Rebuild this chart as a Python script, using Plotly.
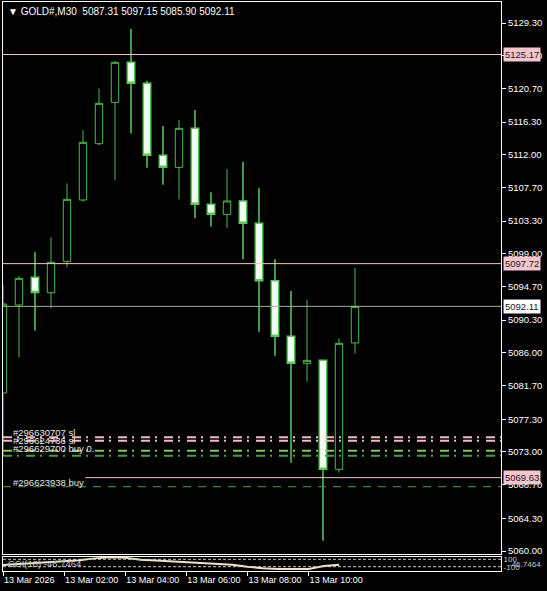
import plotly.graph_objects as go

# ---------------- data ----------------
bar_index = list(range(23))  # M30 bars, 13 Mar 2026 00:00 .. 11:00
opens = [5080.74, 5092.29, 5095.92, 5093.90, 5098.02, 5106.07, 5113.46, 5118.89, 5124.14, 5121.39,
         5111.94, 5110.36, 5115.48, 5105.50, 5104.19, 5105.94, 5103.01, 5095.48, 5088.18, 5084.64,
         5085.03, 5070.72, 5087.31]
highs = [5094.91, 5096.09, 5099.20, 5101.17, 5108.26, 5115.26, 5120.73, 5124.30, 5128.51, 5121.73,
         5115.78, 5116.57, 5117.88, 5107.08, 5110.14, 5111.10, 5107.60, 5098.29, 5094.12, 5092.94,
         5085.10, 5087.92, 5097.15]
lows = [5072.60, 5085.42, 5088.91, 5091.85, 5097.24, 5105.85, 5113.29, 5108.69, 5114.82, 5110.31,
        5108.08, 5106.16, 5103.67, 5102.56, 5102.43, 5098.29, 5088.78, 5085.63, 5071.59, 5082.22,
        5061.35, 5070.28, 5085.90]
closes = [5092.42, 5095.79, 5093.93, 5097.89, 5106.16, 5113.64, 5118.76, 5124.14, 5121.39, 5111.94,
          5110.36, 5115.48, 5105.50, 5104.19, 5105.94, 5103.01, 5095.48, 5088.18, 5084.64, 5085.03,
          5070.72, 5087.26, 5092.11]

cci_values = [-54, -30, -5, 20, 45, 75, 125, 152, 140, 85, 65, 45, 20, 5, -8, -45, -100, -143,
              -162, -165, -160, -80, -47]
cci_levels = [100, -100]

price_ticks = [5129.30, 5125.00, 5120.70, 5116.30, 5112.00, 5107.70, 5103.30, 5099.00, 5094.70,
               5090.30, 5086.00, 5081.70, 5077.30, 5073.00, 5068.70, 5064.30, 5060.00]
time_tick_bars = [0, 4, 8, 12, 16, 20]
time_tick_labels = ["13 Mar 2026", "13 Mar 02:00", "13 Mar 04:00", "13 Mar 06:00",
                    "13 Mar 08:00", "13 Mar 10:00"]

pink_levels = [5125.17, 5097.72]
bid_level = 5092.11
order_open_level = 5069.63
sl_levels = [5074.92, 5074.48]
tp_levels = [5073.16, 5072.51]
stop_dash_level = 5068.44

order_texts = ["#296630707 sl", "#296624736 sl", "#296629700 buy 0.", "#296623938 buy"]
order_text_levels = [5075.62, 5074.55, 5073.40, 5068.95]

title_text = "\u25BC GOLD#,M30  5087.31 5097.15 5085.90 5092.11"
cci_text = "CCI(18) -46.7464"
cci_value = -46.7464

# ---------------- figure ----------------
fig = go.Figure()

fig.add_trace(go.Candlestick(
    x=bar_index, open=opens, high=highs, low=lows, close=closes,
    increasing=dict(line=dict(color="#4cb84c", width=1), fillcolor="#000000"),
    decreasing=dict(line=dict(color="#5cc85c", width=1.5), fillcolor="#f2fff2"),
    whiskerwidth=0, hoverinfo="skip", xaxis="x", yaxis="y",
))

fig.add_trace(go.Scatter(
    x=bar_index, y=cci_values, mode="lines",
    line=dict(color="#efe4c8", width=2), hoverinfo="skip", xaxis="x2", yaxis="y2",
))

shapes = []
for lv in pink_levels:
    shapes.append(dict(type="line", xref="x domain", yref="y", x0=0, x1=1, y0=lv, y1=lv,
                       line=dict(color="#f2c4ca", width=1)))
shapes.append(dict(type="line", xref="x domain", yref="y", x0=0, x1=1, y0=bid_level, y1=bid_level,
                   line=dict(color="#a8a8a8", width=1)))
shapes.append(dict(type="line", xref="x domain", yref="y", x0=0.165, x1=1, y0=order_open_level,
                   y1=order_open_level, line=dict(color="#f2c4ca", width=1)))
for lv in sl_levels:
    shapes.append(dict(type="line", xref="x domain", yref="y", x0=0, x1=1, y0=lv, y1=lv,
                       line=dict(color="#f0b8c2", width=2, dash="9px,5px,2px,7px")))
tp_colors = ["#8cc06a", "#4a9a40"]
for lv, c in zip(tp_levels, tp_colors):
    shapes.append(dict(type="line", xref="x domain", yref="y", x0=0, x1=1, y0=lv, y1=lv,
                       line=dict(color=c, width=2, dash="9px,5px,2px,7px")))
shapes.append(dict(type="line", xref="x domain", yref="y", x0=0, x1=1, y0=stop_dash_level,
                   y1=stop_dash_level, line=dict(color="#4a9a40", width=1, dash="8px,7px")))
for lv in cci_levels:
    shapes.append(dict(type="line", xref="x2 domain", yref="y2", x0=0, x1=1, y0=lv, y1=lv,
                       line=dict(color="#c8c8c8", width=1, dash="3px,2px")))

annotations = []
annotations.append(dict(text=title_text, xref="paper", yref="paper", x=0, y=1, xanchor="left",
                        yanchor="top", xshift=3, yshift=-2, showarrow=False,
                        font=dict(color="#ffffff", size=10)))
label_specs = [(pink_levels[0], "#f6c4cc"), (pink_levels[1], "#f6c4cc"),
               (bid_level, "#ffffff"), (order_open_level, "#f6c4cc")]
for lv, bg in label_specs:
    annotations.append(dict(text=f"{lv:.2f}", xref="paper", yref="y", x=1, y=lv, xanchor="left",
                            yanchor="middle", xshift=2, showarrow=False, bgcolor=bg, borderpad=1,
                            font=dict(color="#202020", size=9.5)))
for t, lv in zip(order_texts, order_text_levels):
    annotations.append(dict(text=t, xref="paper", yref="y", x=0, y=lv, xanchor="left",
                            yanchor="middle", xshift=8, showarrow=False,
                            font=dict(color="#e8e8e8", size=9.5)))
annotations.append(dict(text=cci_text, xref="paper", yref="y2", x=0, y=0, xanchor="left",
                        yanchor="middle", xshift=3, showarrow=False,
                        font=dict(color="#c8c8c8", size=9.5)))
annotations.append(dict(text=f"{cci_value:.4f}", xref="paper", yref="y2", x=1, y=cci_value,
                        xanchor="left", yanchor="middle", xshift=6, showarrow=False,
                        font=dict(color="#c8c8c8", size=8)))

fig.update_layout(
    width=547, height=591,
    margin=dict(l=3, r=46, t=2, b=20, autoexpand=False),
    paper_bgcolor="#000000", plot_bgcolor="#000000",
    showlegend=False,
    font=dict(family="Liberation Sans", size=9.5, color="#e8e8e8"),
    boxgap=0.34,
    shapes=shapes, annotations=annotations,
    xaxis=dict(domain=[0, 1], anchor="y", range=[0, 31.125], showticklabels=False, ticks="",
               showline=True, mirror=True, linecolor="#ffffff", linewidth=1, showgrid=False,
               zeroline=False, rangeslider=dict(visible=False), automargin=False),
    yaxis=dict(domain=[0.0299, 1], anchor="x", range=[5059.61, 5132.06], side="right",
               tickvals=price_ticks, ticktext=[f"{v:.2f}" for v in price_ticks],
               ticks="outside", ticklen=4, tickcolor="#ffffff", showline=True, mirror=True,
               linecolor="#ffffff", linewidth=1, showgrid=False, zeroline=False,
               tickfont=dict(color="#ffffff", size=9.5), automargin=False),
    xaxis2=dict(domain=[0, 1], anchor="y2", range=[0, 32.59], tickvals=time_tick_bars,
                ticktext=time_tick_labels, ticks="outside", ticklen=4, tickcolor="#ffffff",
                ticklabelposition="outside right", tickangle=0, showline=True, mirror=True,
                linecolor="#ffffff", linewidth=1, showgrid=False, zeroline=False,
                tickfont=dict(color="#ffffff", size=9), automargin=False),
    yaxis2=dict(domain=[0, 0.0246], anchor="x2", range=[-216, 162], side="right",
                tickvals=cci_levels, ticktext=[str(v) for v in cci_levels], ticks="",
                showline=True, mirror=True, linecolor="#ffffff", linewidth=1, showgrid=False,
                zeroline=False, tickfont=dict(color="#c8c8c8", size=8), automargin=False),
)

fig.write_html("out.html", config={"displayModeBar": False},
               post_script="document.body.style.margin='0px';document.body.style.overflow='hidden';")
